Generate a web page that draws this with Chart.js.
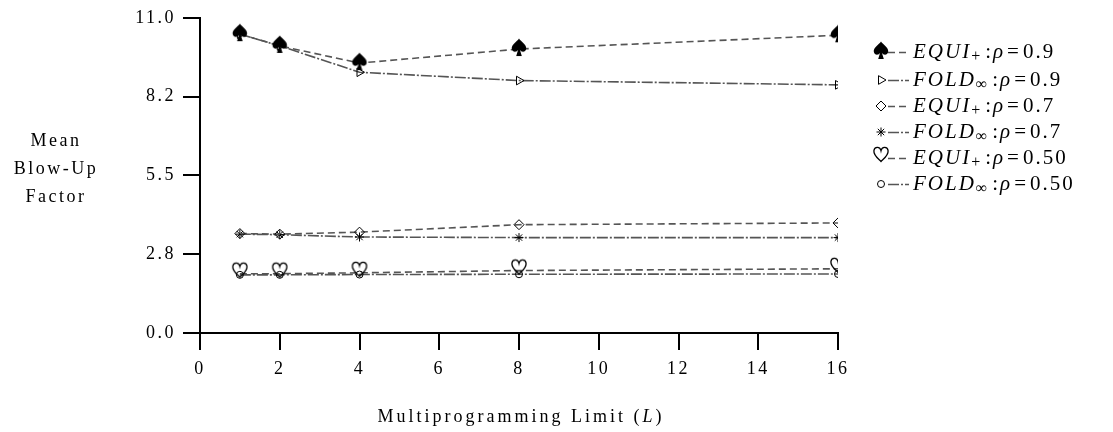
<!DOCTYPE html>
<html>
<head>
<meta charset="utf-8">
<script src="https://cdn.jsdelivr.net/npm/chart.js@4/dist/chart.umd.min.js"></script>
<style>
  html, body { margin: 0; padding: 0; background: #fff; }
  #wrap { position: relative; width: 1113px; height: 432px; }
</style>
</head>
<body>
<div id="wrap"><canvas id="blowup"></canvas></div>
<script>
// -----------------------------------------------------------------------------
// Mean blow-up factor vs. multiprogramming limit
// -----------------------------------------------------------------------------

const limits = [1, 2, 4, 8, 16];

const equi09 = [10.43, 10.02, 9.42, 9.91, 10.39];
const fold09 = [10.43, 10.02, 9.10, 8.81, 8.66];
const equi07 = [3.47, 3.45, 3.52, 3.78, 3.84];
const fold07 = [3.45, 3.43, 3.35, 3.33, 3.33];
const equi05 = [2.07, 2.07, 2.10, 2.18, 2.24];
const fold05 = [2.03, 2.03, 2.04, 2.05, 2.06];

const seriesPolicy = ['EQUI', 'FOLD', 'EQUI', 'FOLD', 'EQUI', 'FOLD'];
const seriesSub    = ['+', '\u221E', '+', '\u221E', '+', '\u221E'];
const seriesRho    = ['0.9', '0.9', '0.7', '0.7', '0.50', '0.50'];

const yTicks      = [0, 2.75, 5.5, 8.25, 11];
const yTickLabels = ['0.0', '2.8', '5.5', '8.2', '11.0'];
const xTicks      = [0, 2, 4, 6, 8, 10, 12, 14, 16];

const yTitle = ['Mean', 'Blow-Up', 'Factor'];
const xTitle = 'Multiprogramming Limit';

// -----------------------------------------------------------------------------

const FAMILY  = "'Liberation Serif', 'Times New Roman', serif";
const SPACING = '2.5px';
const LINE    = '#555';
const DASH    = [7, 4];
const DASHDOT = [11, 2, 2, 2];

// small canvases used as point glyphs
function glyph(w, h, paint){
  const c = document.createElement('canvas');
  c.width = w; c.height = h;
  const g = c.getContext('2d');
  paint(g, w, h);
  return c;
}

const spade = glyph(18, 22, (g, w) => {
  g.translate(w/2, 9);
  g.beginPath();
  g.moveTo(0, -8.5);
  g.bezierCurveTo(2, -5.5, 7.8, -2.4, 7.2, 1.8);
  g.bezierCurveTo(6.6, 5.6, 2.2, 5.6, 0.9, 2.8);
  g.lineTo(2.8, 9);
  g.lineTo(-2.8, 9);
  g.lineTo(-0.9, 2.8);
  g.bezierCurveTo(-2.2, 5.6, -6.6, 5.6, -7.2, 1.8);
  g.bezierCurveTo(-7.8, -2.4, -2, -5.5, 0, -8.5);
  g.closePath();
  g.fillStyle = '#000';
  g.fill();
});

// heart sits a little above its point, the way the plotter set it
const heart = glyph(18, 26, (g, w) => {
  g.translate(w/2, 9);
  g.beginPath();
  g.moveTo(0, 7.5);
  g.bezierCurveTo(-3.2, 4.4, -7.6, 1.2, -7.1, -3.2);
  g.bezierCurveTo(-6.6, -7.6, -1, -8, 0, -3.4);
  g.bezierCurveTo(1, -8, 6.6, -7.6, 7.1, -3.2);
  g.bezierCurveTo(7.6, 1.2, 3.2, 4.4, 0, 7.5);
  g.closePath();
  g.strokeStyle = '#000';
  g.lineWidth = 1.3;
  g.stroke();
});

function series(values, dash, style, radius, rotation){
  return {
    data: limits.map((x, i) => ({ x, y: values[i] })),
    borderColor: LINE,
    borderWidth: 1.6,
    borderDash: dash,
    pointStyle: style,
    pointRadius: radius,
    pointRotation: rotation || 0,
    pointBorderColor: '#000',
    pointBorderWidth: 1,
    pointBackgroundColor: 'rgba(0,0,0,0)',
    pointHoverRadius: radius,
    tension: 0,
    fill: false,
  };
}

const datasets = [
  series(equi09, DASH,    spade,      9),
  series(fold09, DASHDOT, 'triangle', 5, 90),
  series(equi07, DASH,    'rectRot',  5),
  series(fold07, DASHDOT, 'star',     4.5),
  series(equi05, DASH,    heart,      9),
  series(fold05, DASHDOT, 'circle',   3.5),
];
datasets.forEach((d, i) => d.label = `${seriesPolicy[i]}${seriesSub[i]}:\u03C1=${seriesRho[i]}`);

// draw a row of differently styled text pieces from x, returns the end x
function runs(ctx, pieces, x, y){
  pieces.forEach(p => {
    x += p.pre || 0;
    ctx.font = p.font;
    ctx.fillText(p.t, x, y + (p.dy || 0));
    x += ctx.measureText(p.t).width;
  });
  return x;
}

const roman  = s => `${s}px ${FAMILY}`;
const italic = s => `italic ${s}px ${FAMILY}`;

const decor = {
  id: 'decor',
  beforeDraw(chart){
    const ctx = chart.ctx;
    ctx.save();
    ctx.fillStyle = '#fff';
    ctx.fillRect(0, 0, chart.width, chart.height);
    ctx.restore();
    ctx.letterSpacing = SPACING;
  },
  afterDraw(chart){
    const ctx = chart.ctx;
    ctx.save();
    ctx.fillStyle = '#000';
    ctx.letterSpacing = SPACING;
    ctx.textBaseline = 'middle';

    // y title, three centred lines left of the tick labels
    ctx.textAlign = 'center';
    ctx.font = roman(18);
    yTitle.forEach((t, i) => ctx.fillText(t, 56, 141 + i * 28));

    // x title with italic L
    ctx.textAlign = 'left';
    ctx.letterSpacing = '3px';
    const xa = chart.scales.x;
    const pieces = [
      { t: xTitle + ' (', font: roman(18) },
      { t: 'L', font: italic(18) },
      { t: ')', font: roman(18) },
    ];
    let w = 0;
    pieces.forEach(p => { ctx.font = p.font; w += ctx.measureText(p.t).width; });
    runs(ctx, pieces, xa.getPixelForValue(8) - w / 2 + 2, 417);

    // legend
    ctx.letterSpacing = '2px';
    const rows = [52, 80, 106, 132, 158, 184];
    const mx = 881;
    chart.data.datasets.forEach((d, i) => {
      const y = rows[i];
      ctx.save();
      ctx.strokeStyle = LINE;
      ctx.lineWidth = 1.6;
      ctx.setLineDash(d.borderDash);
      ctx.beginPath();
      ctx.moveTo(mx + 7, y + 0.5);
      ctx.lineTo(mx + 28, y + 0.5);
      ctx.stroke();
      ctx.restore();

      ctx.save();
      ctx.strokeStyle = '#000';
      ctx.fillStyle = 'rgba(0,0,0,0)';
      ctx.lineWidth = 1;
      Chart.helpers.drawPoint(ctx, {
        pointStyle: d.pointStyle,
        radius: d.pointRadius,
        rotation: d.pointRotation,
        borderWidth: 1,
      }, mx, y);
      ctx.restore();

      ctx.fillStyle = '#000';
      runs(ctx, [
        { t: seriesPolicy[i], font: italic(21) },
        { t: seriesSub[i],    font: roman(16), dy: 5 },
        { t: ':',             font: roman(21), pre: 3 },
        { t: '\u03C1',        font: italic(21) },
        { t: '=',             font: roman(21), pre: 2 },
        { t: seriesRho[i],    font: roman(21), pre: 2 },
      ], 913, y);
    });
    ctx.restore();
  }
};

const axisGrid = {
  display: true,
  drawOnChartArea: false,
  drawTicks: true,
  tickLength: 17,
  tickWidth: 2,
  tickColor: '#000',
  color: '#000',
  lineWidth: 2,
};

new Chart(document.getElementById('blowup'), {
  type: 'line',
  data: { datasets },
  options: {
    responsive: true,
    maintainAspectRatio: false,
    devicePixelRatio: 1,
    animation: false,
    events: [],
    layout: { padding: { top: 15, right: 275, left: 0, bottom: 0 } },
    plugins: {
      legend: { display: false },
      tooltip: { enabled: false },
    },
    scales: {
      x: {
        type: 'linear',
        min: 0, max: 16,
        afterBuildTicks: s => { s.ticks = xTicks.map(v => ({ value: v })); },
        afterFit: s => { s.height = 99; },
        ticks: { color: '#000', padding: 8, maxRotation: 0, autoSkip: false,
                 font: { family: FAMILY, size: 18 } },
        grid: axisGrid,
        border: { display: true, color: '#000', width: 2 },
      },
      y: {
        type: 'linear',
        min: 0, max: 11,
        afterBuildTicks: s => { s.ticks = yTicks.map(v => ({ value: v })); },
        afterFit: s => { s.width = 200; },
        ticks: { color: '#000', padding: 7,
                 callback: (v) => yTickLabels[yTicks.indexOf(v)],
                 font: { family: FAMILY, size: 18 } },
        grid: axisGrid,
        border: { display: true, color: '#000', width: 2 },
      },
    },
  },
  plugins: [decor],
});
</script>
</body>
</html>
